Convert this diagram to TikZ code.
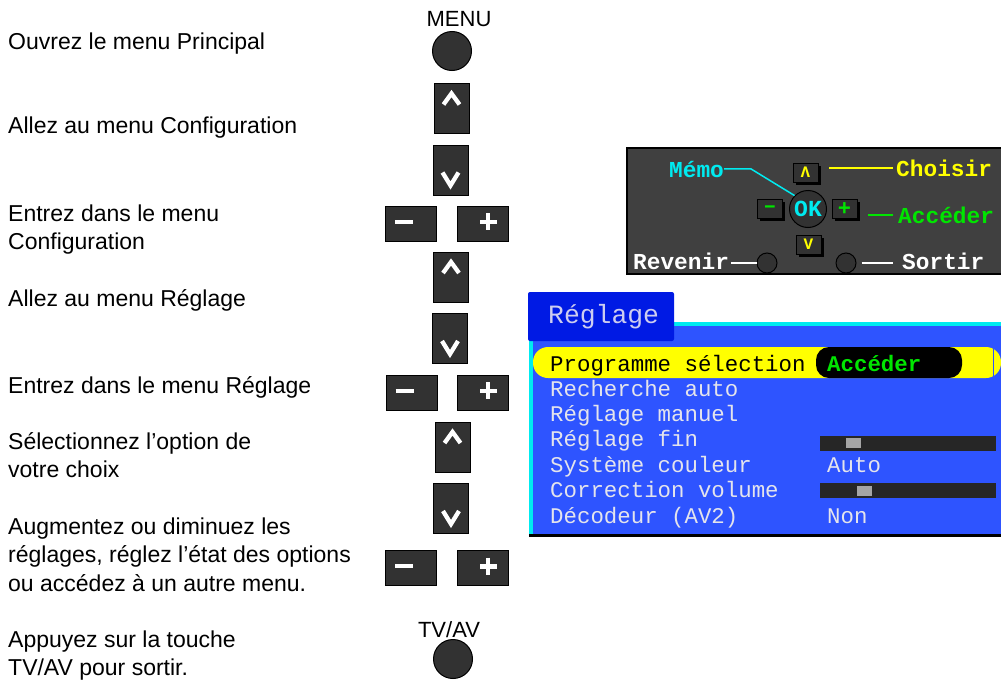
\documentclass[tikz,border=0pt]{standalone}
\usepackage{fontspec}
\setmainfont{Liberation Sans}
\newfontfamily\menufont{Liberation Mono}
\usetikzlibrary{calc,shadows}

\definecolor{keygray}{RGB}{50,50,50}
\definecolor{panelgray}{RGB}{64,64,64}
\definecolor{menublue}{RGB}{46,84,255}
\definecolor{tabblue}{RGB}{0,26,228}
\definecolor{menucyan}{RGB}{0,235,240}
\definecolor{menutext}{RGB}{228,228,236}
\definecolor{titletext}{RGB}{205,205,240}
\definecolor{okyellow}{RGB}{255,255,0}
\definecolor{okgreen}{RGB}{0,230,0}
\definecolor{slidergray}{RGB}{38,38,38}
\definecolor{knobgray}{RGB}{165,165,165}

\tikzset{
  steptext/.style={anchor=base west, inner sep=0pt, align=left, font=\fontsize{23}{28.5}\selectfont},
  keylabel/.style={inner sep=0pt, font=\fontsize{22}{22}\selectfont},
  roundkey/.style={circle, draw=black, line width=1pt, fill=keygray, minimum size=39pt, inner sep=0pt},
  vkey/.style={draw=black, line width=1pt, fill=keygray, minimum width=35pt, minimum height=50pt, inner sep=0pt},
  hkey/.style={draw=black, line width=1pt, fill=keygray, minimum width=51pt, minimum height=35pt, inner sep=0pt},
  keymark/.style={white, line width=4.3pt},
  smallkey/.style={draw=black, line width=0.8pt, fill=keygray, minimum width=25pt, minimum height=19pt, inner sep=0pt,
    drop shadow={shadow xshift=2.5pt, shadow yshift=-2.5pt, fill=black, opacity=1},
    font=\menufont\bfseries\fontsize{16}{16}\selectfont},
  bigsign/.style={font=\menufont\bfseries\fontsize{22}{22}\selectfont},
  remkey/.style={circle, draw=black, line width=1pt, fill=keygray, minimum size=20pt, inner sep=0pt},
  remlabel/.style={anchor=base west, inner sep=0pt, font=\menufont\bfseries\fontsize{22.8}{22.8}\selectfont},
  remline/.style={line width=1.5pt},
  menurow/.style={anchor=base west, inner sep=0pt, text=menutext, font=\menufont\fontsize{22.4}{22.4}\selectfont}
}

\begin{document}
\begin{tikzpicture}[x=1pt, y=-1pt]
\useasboundingbox (0,0) rectangle (1001,680);
\clip (0,0) rectangle (1001,680);

% Steps on the left (placed at the baseline of their last line)
\node[steptext] (s1) at (8,49) {Ouvrez le menu Principal};
\node[steptext] (s2) at (8,133) {Allez au menu Configuration};
\node[steptext] (s3) at (8,249.5) {Entrez dans le menu\\Configuration};
\node[steptext] (s4) at (8,306) {Allez au menu Réglage};
\node[steptext] (s5) at (8,393) {Entrez dans le menu Réglage};
\node[steptext] (s6) at (8,477.5) {Sélectionnez l’option de\\votre choix};
\node[steptext] (s7) at (8,591) {Augmentez ou diminuez les\\réglages, réglez l’état des options\\ou accédez à un autre menu.};
\node[steptext] (s8) at (8,675.5) {Appuyez sur la touche\\TV/AV pour sortir.};

% Remote keys
\node[keylabel, anchor=base] (menulbl) at (459,27) {MENU};
\node[roundkey] (menukey) at (452,51) {};

\node[vkey] (up1) at (451.5,108) {};
\draw[keymark] ($(up1.north)+(-8,22)$) -- ++(8,-11) -- ++(8,11);
\node[vkey] (dn1) at (450.5,170) {};
\draw[keymark] ($(dn1.south)+(-8,-23)$) -- ++(8,13) -- ++(8,-13);
\node[hkey] (mi1) at (411,223.5) {};
\draw[keymark] ($(mi1.center)+(-16,-1.5)$) -- ++(18,0);
\node[hkey] (pl1) at (482.5,223.5) {};
\draw[keymark] ($(pl1.center)+(5.5,-10.5)$) -- ++(0,17) ($(pl1.center)+(-2.5,-1.5)$) -- ++(17,0);

\node[vkey] (up2) at (451,277.5) {};
\draw[keymark] ($(up2.north)+(-8,21)$) -- ++(8,-11) -- ++(8,11);
\node[vkey] (dn2) at (450,338.5) {};
\draw[keymark] ($(dn2.south)+(-8,-23)$) -- ++(8,13) -- ++(8,-13);
\node[hkey] (mi2) at (411.5,392.5) {};
\draw[keymark] ($(mi2.center)+(-16,-1.5)$) -- ++(18,0);
\node[hkey] (pl2) at (482.5,392.5) {};
\draw[keymark] ($(pl2.center)+(5.5,-10.5)$) -- ++(0,17) ($(pl2.center)+(-2.5,-1.5)$) -- ++(17,0);

\node[vkey] (up3) at (452.5,447.5) {};
\draw[keymark] ($(up3.north)+(-8,21)$) -- ++(8,-11) -- ++(8,11);
\node[vkey] (dn3) at (451,508.5) {};
\draw[keymark] ($(dn3.south)+(-8,-23)$) -- ++(8,13) -- ++(8,-13);
\node[hkey] (mi3) at (411,567.5) {};
\draw[keymark] ($(mi3.center)+(-16,-1.5)$) -- ++(18,0);
\node[hkey] (pl3) at (482.5,568) {};
\draw[keymark] ($(pl3.center)+(5.5,-10.5)$) -- ++(0,17) ($(pl3.center)+(-2.5,-1.5)$) -- ++(17,0);

\node[keylabel, anchor=base] (tvlbl) at (449,637) {TV/AV};
\node[roundkey] (tvkey) at (453,659) {};

% Remote panel
\draw[line width=2pt, fill=panelgray] (627,148) rectangle (1005,274);
\node[smallkey, text=okyellow] (upsm) at (805.5,172.5) {Λ};
\node[smallkey, bigsign, text=okgreen] (minsm) at (770,209) {–};
\node[smallkey, bigsign, text=okgreen] (plussm) at (844.5,209) {+};
\node[smallkey, text=okyellow] (dnsm) at (808.5,244.5) {V};
\node[remkey] (revbtn) at (767,263) {};
\node[remkey] (sortbtn) at (846,263) {};

\node[remlabel, text=menucyan] (memo) at (669,177) {Mémo};
\node[remlabel, text=okyellow] (choisir) at (896,176) {Choisir};
\node[remlabel, text=okgreen] (acceder) at (898,223) {Accéder};
\node[remlabel, text=white] (revenir) at (633,269) {Revenir};
\node[remlabel, text=white] (sortir) at (902,269) {Sortir};

\node[circle, draw=black, line width=1pt, fill=keygray, minimum size=37pt, inner sep=0pt, text=menucyan,
  font=\menufont\bfseries\fontsize{23}{23}\selectfont] (ok) at (808,209) {OK};
\draw[remline, menucyan] (memo.east) -- ++(27,0) -- (ok.north west);
\draw[remline, okyellow, shorten <=11pt, shorten >=3pt] (upsm.east |- choisir.west) -- (choisir.west);
\draw[remline, okgreen, shorten <=11pt, shorten >=5pt] (plussm.east |- acceder.west) -- (acceder.west);
\draw[remline, white, shorten <=2pt] (revenir.east |- revbtn) -- (revbtn.west);
\draw[remline, white, shorten <=5pt, shorten >=9pt] (sortbtn.east) -- (sortir.west |- sortbtn);

% On-screen menu
\fill[menublue] (529,323) rectangle (1001,535);
\draw[menucyan, line width=4pt] (531,535) -- (531,323.5) -- (1001,323.5);
\draw[black, line width=3pt] (529,535) -- (1001,535);
\fill[tabblue, rounded corners=2pt] (528,292) rectangle (674,341);
\node[anchor=base west, inner sep=0pt, text=titletext, font=\menufont\fontsize{26.4}{26.4}\selectfont] (title) at (548,323) {Réglage};

\fill[okyellow, rounded corners=15pt] (533,347) rectangle (1001,378);
\fill[black, rounded corners=13pt] (816,347) rectangle (962,378);
\draw[menublue, line width=1pt] (993,349) -- (993,376);

\node[menurow, text=black] (r1) at (550,371) {Programme sélection};
\node[menurow, text=okgreen, font=\menufont\bfseries\fontsize{22.4}{22.4}\selectfont] (r1v) at (827,371) {Accéder};
\node[menurow] (r2) at (550,396) {Recherche auto};
\node[menurow] (r3) at (550,421) {Réglage manuel};
\node[menurow] (r4) at (550,446) {Réglage fin};
\node[menurow] (r5) at (550,472) {Système couleur};
\node[menurow] (r5v) at (827,472) {Auto};
\node[menurow] (r6) at (550,497) {Correction volume};
\node[menurow] (r7) at (550,523) {Décodeur (AV2)};
\node[menurow] (r7v) at (827,523) {Non};

\fill[slidergray] (820,436) rectangle (996,451);
\fill[knobgray] (846,438) rectangle (861,448);
\fill[slidergray] (820,483) rectangle (996,498);
\fill[knobgray] (857,486) rectangle (872,496);
\end{tikzpicture}
\end{document}
